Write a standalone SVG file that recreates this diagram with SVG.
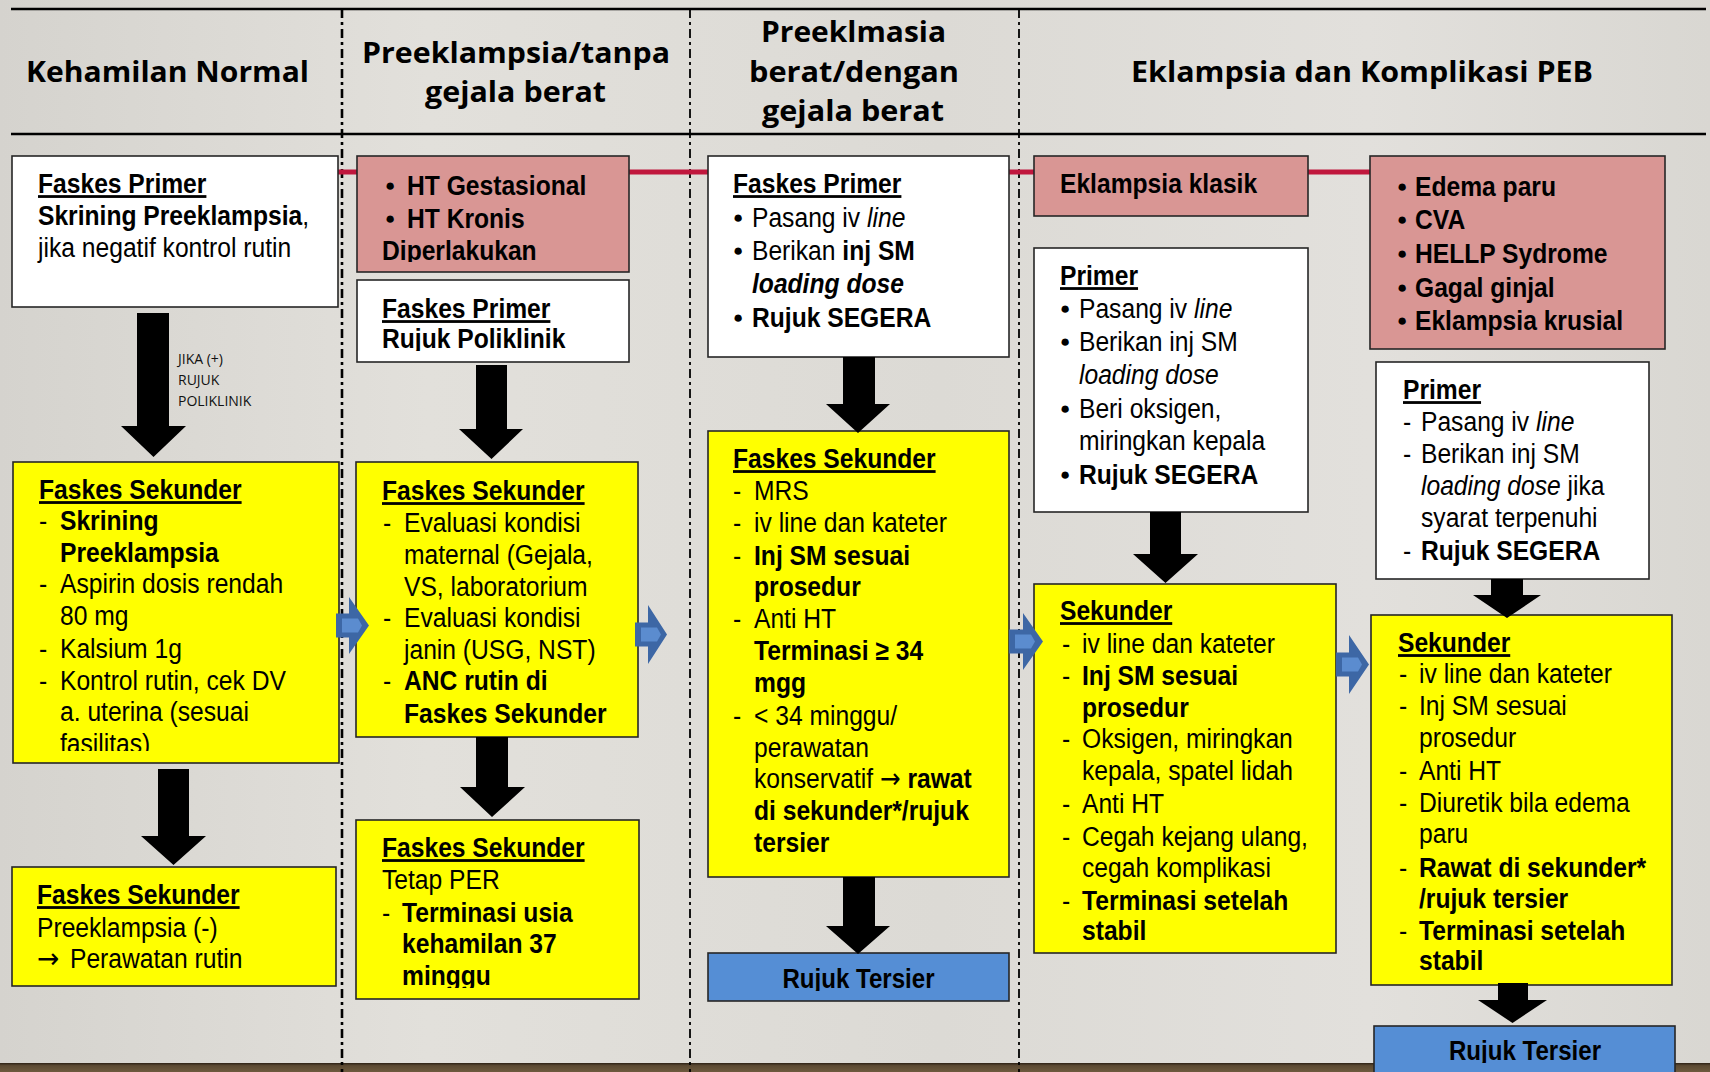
<svg xmlns="http://www.w3.org/2000/svg" width="1710" height="1072" viewBox="0 0 1710 1072">
<style>
.box{stroke:#262626;stroke-width:1.6}
.w{fill:#fff}.y{fill:#ff0}.p{fill:#d99694}.bl{fill:#558ed5}
.t{font-family:"Liberation Sans",Arial,sans-serif;font-size:28px;fill:#000}
.b{font-weight:700}.i{font-style:italic}.u{text-decoration:underline}
.bu{font-family:"Liberation Sans","DejaVu Sans",sans-serif;font-size:17px;fill:#000}
.ar{font-family:"DejaVu Sans","Liberation Sans",sans-serif;font-size:28px}
.h{font-family:"Open Sans","Liberation Sans",sans-serif;font-weight:700;font-size:29px;fill:#000}
.note{font-family:"Open Sans","Liberation Sans",sans-serif;font-size:14px;fill:#111}
.arr{fill:#000}
.chev{fill:#3d67a5}.chevi{fill:#5b8ccf}
.hl{stroke:#000;stroke-width:2.5}
.dl{stroke:#000;stroke-dasharray:9 4 3 4;fill:none}
.red{stroke:#c0173d;stroke-width:5}
</style>
<defs>
<linearGradient id="bgg" x1="0" y1="0" x2="1" y2="0">
<stop offset="0" stop-color="#d5d3ce"/><stop offset="0.25" stop-color="#e2e0db"/><stop offset="0.55" stop-color="#dcdad5"/><stop offset="0.8" stop-color="#e2e0dc"/><stop offset="1" stop-color="#d9d7d2"/>
</linearGradient>
<linearGradient id="floor" x1="0" y1="0" x2="0" y2="1">
<stop offset="0" stop-color="#2e2216"/><stop offset="0.3" stop-color="#5c4a33"/><stop offset="1" stop-color="#6e5a3e"/>
</linearGradient>
<clipPath id="cp2"><rect x="13" y="462" width="326" height="289"/></clipPath>
<clipPath id="cp4"><rect x="357" y="156" width="272" height="106"/></clipPath>
<clipPath id="cp5"><rect x="357" y="280" width="272" height="71"/></clipPath>
<clipPath id="cp7"><rect x="356" y="820" width="283" height="168"/></clipPath>
<clipPath id="cp10"><rect x="708" y="953" width="301" height="38"/></clipPath>
<clipPath id="cp17"><rect x="1374" y="1026" width="301" height="37"/></clipPath>
</defs>
<rect x="0" y="0" width="1710" height="1072" fill="url(#bgg)"/>
<rect x="0" y="1063" width="1710" height="9" fill="url(#floor)"/>

<g id="headers">
<line class="hl" x1="11" y1="9" x2="1706" y2="9"/>
<line class="hl" x1="11" y1="134" x2="1706" y2="134"/>
<text class="h" x="26" y="82" textLength="283" lengthAdjust="spacingAndGlyphs">Kehamilan Normal</text>
<text class="h" x="362" y="63" textLength="308" lengthAdjust="spacingAndGlyphs">Preeklampsia/tanpa</text>
<text class="h" x="425" y="102" textLength="181" lengthAdjust="spacingAndGlyphs">gejala berat</text>
<text class="h" x="761" y="42" textLength="185" lengthAdjust="spacingAndGlyphs">Preeklmasia</text>
<text class="h" x="749" y="82" textLength="210" lengthAdjust="spacingAndGlyphs">berat/dengan</text>
<text class="h" x="762" y="121" textLength="182" lengthAdjust="spacingAndGlyphs">gejala berat</text>
<text class="h" x="1131" y="82" textLength="462" lengthAdjust="spacingAndGlyphs">Eklampsia dan Komplikasi PEB</text>
</g>

<g id="dividers">
<line class="dl" x1="342" y1="9" x2="342" y2="1072" stroke-width="2.6"/>
<line class="dl" x1="690" y1="9" x2="690" y2="1072" stroke-width="1.8"/>
<line class="dl" x1="1019" y1="9" x2="1019" y2="1072" stroke-width="1.8"/>
</g>

<g id="red-link">
<line class="red" x1="338" y1="172" x2="1372" y2="172"/>
</g>

<!-- Column 1 -->
<g id="n1">
<rect class="box w" x="12" y="156" width="326" height="151"/>
<text class="t b u" transform="translate(38 193) scale(.88 1)">Faskes Primer</text>
<text class="t" transform="translate(38 225) scale(.88 1)"><tspan class="b">Skrining Preeklampsia</tspan>,</text>
<text class="t" transform="translate(38 257) scale(.88 1)">jika negatif kontrol rutin</text>
</g>

<g id="n2">
<rect class="box y" x="13" y="462" width="326" height="301"/>
<g clip-path="url(#cp2)">
<text class="t b u" transform="translate(39 499) scale(.88 1)">Faskes Sekunder</text>
<text class="t" transform="translate(39 530) scale(.88 1)">-</text>
<text class="t b" transform="translate(60 530) scale(.88 1)">Skrining</text>
<text class="t b" transform="translate(60 562) scale(.88 1)">Preeklampsia</text>
<text class="t" transform="translate(39 593) scale(.88 1)">-</text>
<text class="t" transform="translate(60 593) scale(.88 1)">Aspirin dosis rendah</text>
<text class="t" transform="translate(60 625) scale(.88 1)">80 mg</text>
<text class="t" transform="translate(39 658) scale(.88 1)">-</text>
<text class="t" transform="translate(60 658) scale(.88 1)">Kalsium 1g</text>
<text class="t" transform="translate(39 690) scale(.88 1)">-</text>
<text class="t" transform="translate(60 690) scale(.88 1)">Kontrol rutin, cek DV</text>
<text class="t" transform="translate(60 721) scale(.88 1)">a. uterina (sesuai</text>
<text class="t" transform="translate(60 753) scale(.88 1)">fasilitas)</text>
</g>
</g>

<g id="n3">
<rect class="box y" x="12" y="867" width="324" height="119"/>
<text class="t b u" transform="translate(37 904) scale(.88 1)">Faskes Sekunder</text>
<text class="t" transform="translate(37 937) scale(.88 1)">Preeklampsia (-)</text>
<text class="t ar" transform="translate(37 968) scale(.95 1)">→</text>
<text class="t" transform="translate(70 968) scale(.88 1)">Perawatan rutin</text>
</g>

<!-- Column 2 -->
<g id="n4">
<rect class="box p" x="357" y="156" width="272" height="116"/>
<g clip-path="url(#cp4)">
<text class="bu" x="385" y="191">●</text>
<text class="t b" transform="translate(407 195) scale(.88 1)">HT Gestasional</text>
<text class="bu" x="385" y="224">●</text>
<text class="t b" transform="translate(407 228) scale(.88 1)">HT Kronis</text>
<text class="t b" transform="translate(382 260) scale(.88 1)">Diperlakukan</text>
</g>
</g>

<g id="n5">
<rect class="box w" x="357" y="280" width="272" height="82"/>
<g clip-path="url(#cp5)">
<text class="t b u" transform="translate(382 318) scale(.88 1)">Faskes Primer</text>
<text class="t b" transform="translate(382 348) scale(.88 1)">Rujuk Poliklinik</text>
</g>
</g>

<g id="n6">
<rect class="box y" x="356" y="462" width="282" height="275"/>
<text class="t b u" transform="translate(382 500) scale(.88 1)">Faskes Sekunder</text>
<text class="t" transform="translate(383 532) scale(.88 1)">-</text>
<text class="t" transform="translate(404 532) scale(.88 1)">Evaluasi kondisi</text>
<text class="t" transform="translate(404 564) scale(.88 1)">maternal (Gejala,</text>
<text class="t" transform="translate(404 596) scale(.88 1)">VS, laboratorium</text>
<text class="t" transform="translate(383 627) scale(.88 1)">-</text>
<text class="t" transform="translate(404 627) scale(.88 1)">Evaluasi kondisi</text>
<text class="t" transform="translate(404 659) scale(.88 1)">janin (USG, NST)</text>
<text class="t" transform="translate(383 690) scale(.88 1)">-</text>
<text class="t b" transform="translate(404 690) scale(.88 1)">ANC rutin di</text>
<text class="t b" transform="translate(404 723) scale(.88 1)">Faskes Sekunder</text>
</g>

<g id="n7">
<rect class="box y" x="356" y="820" width="283" height="179"/>
<g clip-path="url(#cp7)">
<text class="t b u" transform="translate(382 857) scale(.88 1)">Faskes Sekunder</text>
<text class="t" transform="translate(382 889) scale(.88 1)">Tetap PER</text>
<text class="t" transform="translate(382 922) scale(.88 1)">-</text>
<text class="t b" transform="translate(402 922) scale(.88 1)">Terminasi usia</text>
<text class="t b" transform="translate(402 953) scale(.88 1)">kehamilan 37</text>
<text class="t b" transform="translate(402 985) scale(.88 1)">minggu</text>
</g>
</g>

<!-- Column 3 -->
<g id="n8">
<rect class="box w" x="708" y="156" width="301" height="201"/>
<text class="t b u" transform="translate(733 193) scale(.88 1)">Faskes Primer</text>
<text class="bu" x="733" y="223">●</text>
<text class="t" transform="translate(752 227) scale(.88 1)">Pasang iv <tspan class="i">line</tspan></text>
<text class="bu" x="733" y="256">●</text>
<text class="t" transform="translate(752 260) scale(.88 1)">Berikan <tspan class="b">inj SM</tspan></text>
<text class="t b i" transform="translate(752 293) scale(.88 1)">loading dose</text>
<text class="bu" x="733" y="323">●</text>
<text class="t b" transform="translate(752 327) scale(.88 1)">Rujuk SEGERA</text>
</g>

<g id="n9">
<rect class="box y" x="708" y="431" width="301" height="446"/>
<text class="t b u" transform="translate(733 468) scale(.88 1)">Faskes Sekunder</text>
<text class="t" transform="translate(733 500) scale(.88 1)">-</text>
<text class="t" transform="translate(754 500) scale(.88 1)">MRS</text>
<text class="t" transform="translate(733 532) scale(.88 1)">-</text>
<text class="t" transform="translate(754 532) scale(.88 1)">iv line dan kateter</text>
<text class="t" transform="translate(733 565) scale(.88 1)">-</text>
<text class="t b" transform="translate(754 565) scale(.88 1)">Inj SM sesuai</text>
<text class="t b" transform="translate(754 596) scale(.88 1)">prosedur</text>
<text class="t" transform="translate(733 628) scale(.88 1)">-</text>
<text class="t" transform="translate(754 628) scale(.88 1)">Anti HT</text>
<text class="t b" transform="translate(754 660) scale(.88 1)">Terminasi ≥ 34</text>
<text class="t b" transform="translate(754 692) scale(.88 1)">mgg</text>
<text class="t" transform="translate(733 725) scale(.88 1)">-</text>
<text class="t" transform="translate(754 725) scale(.88 1)">&lt; 34 minggu/</text>
<text class="t" transform="translate(754 757) scale(.88 1)">perawatan</text>
<text class="t" transform="translate(754 788) scale(.88 1)">konservatif <tspan class="ar">→</tspan> <tspan class="b">rawat</tspan></text>
<text class="t b" transform="translate(754 820) scale(.88 1)">di sekunder*/rujuk</text>
<text class="t b" transform="translate(754 852) scale(.88 1)">tersier</text>
</g>

<g id="n10">
<rect class="box bl" x="708" y="953" width="301" height="48"/>
<g clip-path="url(#cp10)">
<text class="t b" font-size="26" text-anchor="middle" transform="translate(858.5 988) scale(.86 1)">Rujuk Tersier</text>
</g>
</g>

<!-- Column 4 -->
<g id="n11">
<rect class="box p" x="1034" y="156" width="274" height="60"/>
<text class="t b" transform="translate(1060 193) scale(.88 1)">Eklampsia klasik</text>
</g>

<g id="n12">
<rect class="box w" x="1034" y="248" width="274" height="264"/>
<text class="t b u" transform="translate(1060 285) scale(.88 1)">Primer</text>
<text class="bu" x="1060" y="314">●</text>
<text class="t" transform="translate(1079 318) scale(.88 1)">Pasang iv <tspan class="i">line</tspan></text>
<text class="bu" x="1060" y="347">●</text>
<text class="t" transform="translate(1079 351) scale(.88 1)">Berikan inj SM</text>
<text class="t i" transform="translate(1079 384) scale(.88 1)">loading dose</text>
<text class="bu" x="1060" y="414">●</text>
<text class="t" transform="translate(1079 418) scale(.88 1)">Beri oksigen,</text>
<text class="t" transform="translate(1079 450) scale(.88 1)">miringkan kepala</text>
<text class="bu" x="1060" y="480">●</text>
<text class="t b" transform="translate(1079 484) scale(.88 1)">Rujuk SEGERA</text>
</g>

<g id="n13">
<rect class="box y" x="1034" y="584" width="302" height="369"/>
<text class="t b u" transform="translate(1060 620) scale(.88 1)">Sekunder</text>
<text class="t" transform="translate(1062 653) scale(.88 1)">-</text>
<text class="t" transform="translate(1082 653) scale(.88 1)">iv line dan kateter</text>
<text class="t" transform="translate(1062 685) scale(.88 1)">-</text>
<text class="t b" transform="translate(1082 685) scale(.88 1)">Inj SM sesuai</text>
<text class="t b" transform="translate(1082 717) scale(.88 1)">prosedur</text>
<text class="t" transform="translate(1062 748) scale(.88 1)">-</text>
<text class="t" transform="translate(1082 748) scale(.88 1)">Oksigen, miringkan</text>
<text class="t" transform="translate(1082 780) scale(.88 1)">kepala, spatel lidah</text>
<text class="t" transform="translate(1062 813) scale(.88 1)">-</text>
<text class="t" transform="translate(1082 813) scale(.88 1)">Anti HT</text>
<text class="t" transform="translate(1062 846) scale(.88 1)">-</text>
<text class="t" transform="translate(1082 846) scale(.88 1)">Cegah kejang ulang,</text>
<text class="t" transform="translate(1082 877) scale(.88 1)">cegah komplikasi</text>
<text class="t" transform="translate(1062 910) scale(.88 1)">-</text>
<text class="t b" transform="translate(1082 910) scale(.88 1)">Terminasi setelah</text>
<text class="t b" transform="translate(1082 940) scale(.88 1)">stabil</text>
</g>

<!-- Column 5 -->
<g id="n14">
<rect class="box p" x="1370" y="156" width="295" height="193"/>
<text class="bu" x="1397" y="192">●</text>
<text class="t b" transform="translate(1415 196) scale(.88 1)">Edema paru</text>
<text class="bu" x="1397" y="225">●</text>
<text class="t b" transform="translate(1415 229) scale(.88 1)">CVA</text>
<text class="bu" x="1397" y="259">●</text>
<text class="t b" transform="translate(1415 263) scale(.88 1)">HELLP Sydrome</text>
<text class="bu" x="1397" y="293">●</text>
<text class="t b" transform="translate(1415 297) scale(.88 1)">Gagal ginjal</text>
<text class="bu" x="1397" y="326">●</text>
<text class="t b" transform="translate(1415 330) scale(.88 1)">Eklampsia krusial</text>
</g>

<g id="n15">
<rect class="box w" x="1376" y="362" width="273" height="217"/>
<text class="t b u" transform="translate(1403 399) scale(.88 1)">Primer</text>
<text class="t" transform="translate(1403 431) scale(.88 1)">-</text>
<text class="t" transform="translate(1421 431) scale(.88 1)">Pasang iv <tspan class="i">line</tspan></text>
<text class="t" transform="translate(1403 463) scale(.88 1)">-</text>
<text class="t" transform="translate(1421 463) scale(.88 1)">Berikan inj SM</text>
<text class="t" transform="translate(1421 495) scale(.88 1)"><tspan class="i">loading dose</tspan> jika</text>
<text class="t" transform="translate(1421 527) scale(.88 1)">syarat terpenuhi</text>
<text class="t" transform="translate(1403 560) scale(.88 1)">-</text>
<text class="t b" transform="translate(1421 560) scale(.88 1)">Rujuk SEGERA</text>
</g>

<g id="n16">
<rect class="box y" x="1371" y="615" width="301" height="370"/>
<text class="t b u" transform="translate(1398 652) scale(.88 1)">Sekunder</text>
<text class="t" transform="translate(1399 683) scale(.88 1)">-</text>
<text class="t" transform="translate(1419 683) scale(.88 1)">iv line dan kateter</text>
<text class="t" transform="translate(1399 715) scale(.88 1)">-</text>
<text class="t" transform="translate(1419 715) scale(.88 1)">Inj SM sesuai</text>
<text class="t" transform="translate(1419 747) scale(.88 1)">prosedur</text>
<text class="t" transform="translate(1399 780) scale(.88 1)">-</text>
<text class="t" transform="translate(1419 780) scale(.88 1)">Anti HT</text>
<text class="t" transform="translate(1399 812) scale(.88 1)">-</text>
<text class="t" transform="translate(1419 812) scale(.88 1)">Diuretik bila edema</text>
<text class="t" transform="translate(1419 843) scale(.88 1)">paru</text>
<text class="t" transform="translate(1399 877) scale(.88 1)">-</text>
<text class="t b" transform="translate(1419 877) scale(.88 1)">Rawat di sekunder*</text>
<text class="t b" transform="translate(1419 908) scale(.88 1)">/rujuk tersier</text>
<text class="t" transform="translate(1399 940) scale(.88 1)">-</text>
<text class="t b" transform="translate(1419 940) scale(.88 1)">Terminasi setelah</text>
<text class="t b" transform="translate(1419 970) scale(.88 1)">stabil</text>
</g>

<g id="n17">
<rect class="box bl" x="1374" y="1026" width="301" height="50"/>
<g clip-path="url(#cp17)">
<text class="t b" font-size="26" text-anchor="middle" transform="translate(1525 1060) scale(.86 1)">Rujuk Tersier</text>
</g>
</g>

<g id="connectors">
<polygon class="arr" points="137,313 169,313 169,426 186,426 153.5,457 121,426 137,426"/>
<text class="note" x="178" y="364">JIKA (+)</text>
<text class="note" x="178" y="385">RUJUK</text>
<text class="note" x="178" y="406">POLIKLINIK</text>
<polygon class="arr" points="158,769 189,769 189,836 206,836 173.5,865 141,836 158,836"/>
<polygon class="arr" points="476,365 507,365 507,429 523,429 491.5,459 459,429 476,429"/>
<polygon class="arr" points="476,737 508,737 508,787 525,787 492,817 460,787 476,787"/>
<polygon class="arr" points="843,357 875,357 875,404 890,404 858,433 826,404 843,404"/>
<polygon class="arr" points="843,877 875,877 875,926 890,926 858,954 826,926 843,926"/>
<polygon class="arr" points="1150,512 1181,512 1181,554 1198,554 1165.5,583 1133,554 1150,554"/>
<polygon class="arr" points="1491,579 1523,579 1523,595 1541,595 1507,618 1473,595 1491,595"/>
<polygon class="arr" points="1498,983 1528,983 1528,1000 1547,1000 1512.5,1023 1478,1000 1498,1000"/>
<polygon class="chev" points="336,613.5 349,613.5 349,597 369,625.5 349,654 349,637.5 336,637.5"/>
<polygon class="chevi" points="342,618.5 358,618.5 362,625.5 358,632.5 342,632.5"/>
<polygon class="chev" points="635,622.5 648,622.5 648,605 667,634.5 648,664 648,646.5 635,646.5"/>
<polygon class="chevi" points="641,627.5 657,627.5 661,634.5 657,641.5 641,641.5"/>
<polygon class="chev" points="1009,629.5 1023,629.5 1023,613 1043,641.5 1023,670 1023,653.5 1009,653.5"/>
<polygon class="chevi" points="1015,634.5 1031,634.5 1035,641.5 1031,648.5 1015,648.5"/>
<polygon class="chev" points="1336,652.5 1349,652.5 1349,635 1369,664.5 1349,694 1349,676.5 1336,676.5"/>
<polygon class="chevi" points="1342,657.5 1358,657.5 1362,664.5 1358,671.5 1342,671.5"/>
</g>
</svg>
